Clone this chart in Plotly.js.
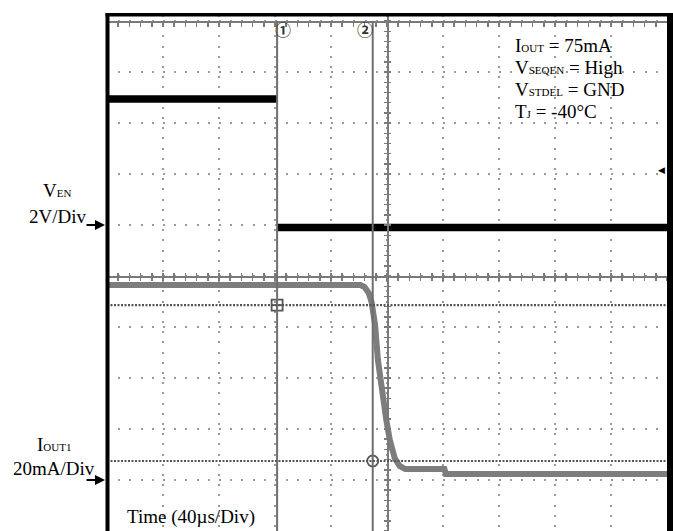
<!DOCTYPE html>
<html>
<head>
<meta charset="utf-8">
<script src="https://cdn.plot.ly/plotly-3.0.1.min.js"></script>
<style>html,body{margin:0;padding:0;background:#fff;}#chart{width:673px;height:531px;}</style>
</head>
<body>
<div id="chart"></div>
<script>
// ---- data (time in µs, 40 µs/div) ----
const venTime = [0, 121.5, 121.5, 121.5, 400];
const venVolts = [4.95, 4.95, null, -0.1, -0.1];           // V_EN, 2 V/div
const ioutTime = [0, 181, 184, 187, 189, 191.5, 193.5, 196.5, 199.5, 202, 205.5, 209, 213, 241, 242, 400];
const ioutMilliamps = [76.5, 76.5, 75.7, 73.3, 69.8, 60.8, 47.1, 33.3, 23.5, 15.7, 8.6, 5.5, 4.3, 4.3, 2.4, 2.4]; // I_OUT1, 20 mA/div
const cursorTimes = [121.5, 189.8];
const cursorLevels = [68.6, 7.45];   // mA
const cursorLabels = ['\u2460', '\u2461'];
const conditionLines = [
  "I<span style='font-size:11px'>OUT</span> = 75mA",
  "V<span style='font-size:11px'>SEQEN</span> = High",
  "V<span style='font-size:11px'>STDEL</span> = GND",
  "T<span style='font-size:11px'>J</span> = -40°C"
];

// ---- layout helpers ----
const W = 673, H = 531, ML = 107, MR = 6, MT = 15, MB = 0;
const PW = W - ML - MR, PH = H - MT - MB;
const px2x = p => (p - ML) / PW;      // pixel -> paper x
const py2y = p => (H - MB - p) / PH;  // pixel -> paper y
const DIV_LO = -5, DIV_HI = 5.12;
const divFrac = d => (d - DIV_LO) / (DIV_HI - DIV_LO);
const vRange = [2 * (DIV_LO - 1), 2 * (DIV_HI - 1)];       // ground of V_EN at +1 div
const iRange = [20 * (DIV_LO + 4), 20 * (DIV_HI + 4)];     // ground of I_OUT at -4 div

const serif = 'Liberation Serif, Times New Roman, serif';
const gridGray = '#9a9a9a';
const axisGray = '#7a7a7a';

const traces = [
  {x: venTime, y: venVolts, mode: 'lines', line: {color: '#000', width: 7.5}, yaxis: 'y', xaxis: 'x', hoverinfo: 'skip', connectgaps: false},
  {x: ioutTime, y: ioutMilliamps, mode: 'lines', line: {color: '#7d7d7d', width: 6}, yaxis: 'y2', xaxis: 'x', hoverinfo: 'skip'},
  {x: cursorTimes, y: cursorLevels, mode: 'markers', yaxis: 'y2', xaxis: 'x', hoverinfo: 'skip',
   marker: {symbol: ['square-cross-open', 'circle-open'], size: 11, color: '#555', line: {width: 1.8, color: '#555'}}},
  // empty traces so the centre graticule axes get drawn
  {x: [], y: [], xaxis: 'x2', yaxis: 'y', mode: 'lines', hoverinfo: 'skip'},
  {x: [], y: [], xaxis: 'x3', yaxis: 'y', mode: 'lines', hoverinfo: 'skip'},
  {x: [], y: [], xaxis: 'x', yaxis: 'y3', mode: 'lines', hoverinfo: 'skip'},
  {x: [], y: [], xaxis: 'x', yaxis: 'y4', mode: 'lines', hoverinfo: 'skip'}
];

const shapes = [];
cursorTimes.forEach(t => shapes.push({type: 'line', xref: 'x', yref: 'paper', x0: t, x1: t, y0: 0, y1: divFrac(5),
  line: {color: '#6e6e6e', width: 2}, layer: 'above'}));
cursorLevels.forEach(l => shapes.push({type: 'line', xref: 'paper', yref: 'y2', x0: 0, x1: 1, y0: l, y1: l,
  line: {color: '#555', width: 2.2, dash: '2px,1.5px'}, layer: 'above'}));
// black frame (left, top, right)
shapes.push({type: 'rect', xref: 'paper', yref: 'paper', x0: -1.5 / PW, x1: 2.5 / PW, y0: -0.01, y1: 1 + 2 / PH, fillcolor: '#000', line: {width: 0}, layer: 'above'});
shapes.push({type: 'rect', xref: 'paper', yref: 'paper', x0: -1.5 / PW, x1: 1 + 6 / PW, y0: 1 - 1.5 / PH, y1: 1 + 2 / PH, fillcolor: '#000', line: {width: 0}, layer: 'above'});
shapes.push({type: 'rect', xref: 'paper', yref: 'paper', x0: 1, x1: 1 + 6 / PW, y0: -0.01, y1: 1 + 2 / PH, fillcolor: '#000', line: {width: 0}, layer: 'above'});

const annotations = [];
conditionLines.forEach((t, i) => annotations.push({xref: 'paper', yref: 'paper', x: px2x(513), y: py2y([43, 65.5, 87.5, 109.5][i] + 2),
  xanchor: 'left', yanchor: 'middle', showarrow: false, text: t, font: {family: serif, size: 19, color: '#000'}}));
cursorLabels.forEach((t, i) => annotations.push({xref: 'x', yref: 'paper', x: [125.5, 184][i], y: py2y(29),
  xanchor: 'center', yanchor: 'middle', showarrow: false, text: '<b>' + t + '</b>', font: {family: 'Noto Sans CJK SC, DejaVu Sans', size: 16, color: '#333'}}));
// channel labels
const lab = (txt, cx, cy, anchor) => annotations.push({xref: 'paper', yref: 'paper', x: px2x(cx), y: py2y(cy), xanchor: anchor || 'center', yanchor: 'middle',
  showarrow: false, text: txt, font: {family: serif, size: 19, color: '#000'}});
lab("V<span style='font-size:11px'>EN</span>", 57, 190);
lab("2V/Div", 58, 216);
lab("I<span style='font-size:11px'>OUT1</span>", 54, 444);
lab("20mA/Div", 54, 468);
lab("Time (40µs/Div)", 125, 517, 'left');
// ground markers (arrows)
annotations.push({xref: 'paper', yref: 'y', x: px2x(105), y: 0, ax: -20, ay: 0, text: '', showarrow: true, arrowhead: 2, arrowsize: 1, arrowwidth: 2, arrowcolor: '#000', standoff: 0});
annotations.push({xref: 'paper', yref: 'y2', x: px2x(105), y: 0, ax: -20, ay: 0, text: '', showarrow: true, arrowhead: 2, arrowsize: 1, arrowwidth: 2, arrowcolor: '#000', standoff: 0});
// trigger-level marker on right edge
annotations.push({xref: 'paper', yref: 'y', x: 1, y: 2.16, xanchor: 'right', yanchor: 'middle', showarrow: false, text: '\u25C0', font: {family: 'DejaVu Sans', size: 9, color: '#000'}});

const hiddenLabels = {showticklabels: false, zeroline: false, fixedrange: true};
const layout = {
  width: W, height: H,
  margin: {l: ML, r: MR, t: MT, b: MB, pad: 0},
  paper_bgcolor: '#fff', plot_bgcolor: '#fff',
  showlegend: false,
  xaxis: Object.assign({range: [0, 400], domain: [0, 1], anchor: 'free', position: divFrac(5), side: 'top',
    showgrid: true, dtick: 40, tick0: 0, gridcolor: gridGray, gridwidth: 1.6, griddash: '2px,8.2px',
    showline: true, linecolor: axisGray, linewidth: 1.5, ticks: 'inside', ticklen: 4, tickcolor: axisGray, tickwidth: 1.5,
    minor: {dtick: 8, ticks: 'inside', ticklen: 4, tickcolor: axisGray, tickwidth: 1.5, showgrid: false}}, hiddenLabels),
  yaxis: Object.assign({range: vRange, domain: [0, 1], dtick: 2, tick0: 0, showgrid: true, gridcolor: gridGray, gridwidth: 1.6,
    griddash: '2px,9.2px', showline: false, ticks: ''}, hiddenLabels),
  yaxis2: Object.assign({range: iRange, overlaying: 'y', showgrid: false, showline: false, ticks: ''}, hiddenLabels),
  xaxis2: Object.assign({range: [0, 400], overlaying: 'x', anchor: 'free', position: divFrac(0), side: 'bottom', showgrid: false,
    showline: true, linecolor: axisGray, linewidth: 1.5, ticks: 'outside', ticklen: 3, dtick: 8, tick0: 0, tickcolor: axisGray, tickwidth: 1.5}, hiddenLabels),
  xaxis3: Object.assign({range: [0, 400], overlaying: 'x', anchor: 'free', position: divFrac(0), side: 'bottom', showgrid: false,
    showline: false, ticks: 'inside', ticklen: 3, dtick: 8, tick0: 0, tickcolor: axisGray, tickwidth: 1.5}, hiddenLabels),
  yaxis3: Object.assign({range: vRange, overlaying: 'y', anchor: 'free', position: 0.5, side: 'left', showgrid: false,
    showline: true, linecolor: axisGray, linewidth: 1.5, ticks: 'outside', ticklen: 3, dtick: 0.4, tick0: 0, tickcolor: axisGray, tickwidth: 1.5}, hiddenLabels),
  yaxis4: Object.assign({range: vRange, overlaying: 'y', anchor: 'free', position: 0.5, side: 'left', showgrid: false,
    showline: false, ticks: 'inside', ticklen: 3, dtick: 0.4, tick0: 0, tickcolor: axisGray, tickwidth: 1.5}, hiddenLabels),
  shapes: shapes,
  annotations: annotations
};

Plotly.newPlot('chart', traces, layout, {staticPlot: true, displayModeBar: false});
</script>
</body>
</html>
